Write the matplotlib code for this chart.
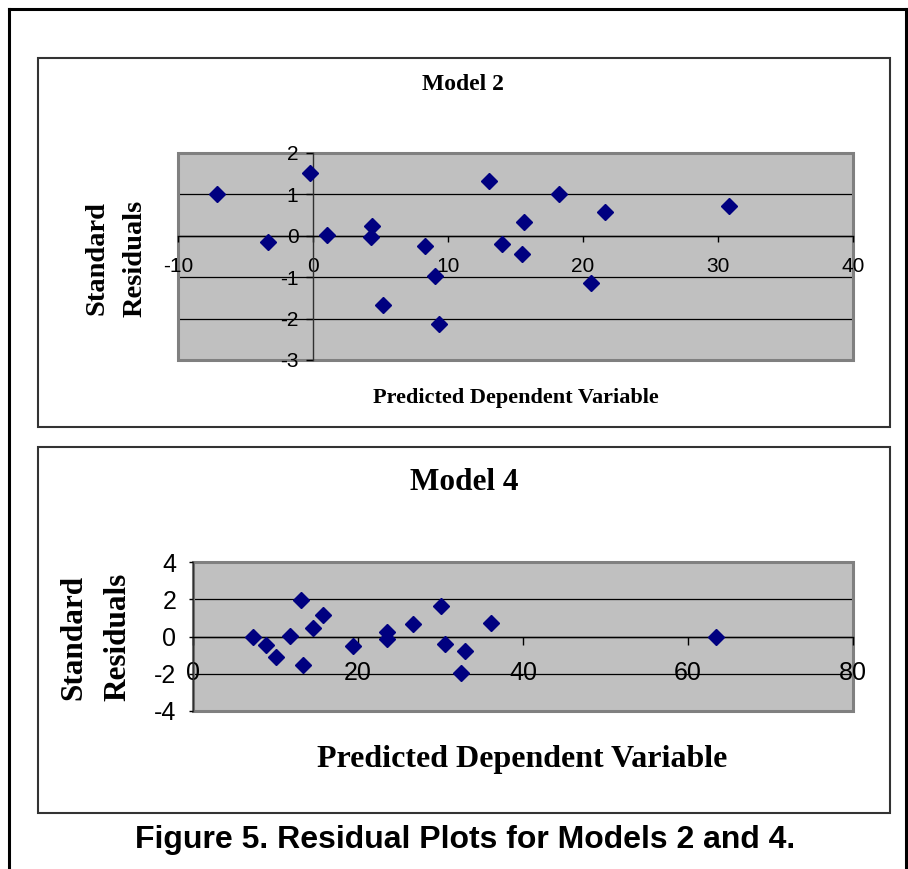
import matplotlib
matplotlib.use("Agg")
import matplotlib.pyplot as plt
from matplotlib.patches import Rectangle
from matplotlib.lines import Line2D

# ---------------- data ----------------
m2_pred = [-7.1, -3.3, -0.2, 1.0, 4.35, 4.3, 5.2, 8.3, 9.0, 9.3,
           13.0, 14.0, 15.6, 15.5, 18.2, 21.6, 20.6, 30.8]
m2_resid = [1.0, -0.15, 1.51, 0.01, 0.24, -0.04, -1.68, -0.24, -0.98, -2.13,
            1.33, -0.19, 0.33, -0.44, 1.0, 0.58, -1.14, 0.72]

m4_pred = [7.3, 8.85, 10.0, 11.7, 13.05, 13.3, 14.5, 15.8, 19.35, 23.55,
           23.5, 26.7, 30.1, 30.5, 33.0, 32.5, 36.1, 63.4]
m4_resid = [0.0, -0.46, -1.09, 0.03, 1.97, -1.54, 0.48, 1.15, -0.51, 0.26,
            -0.13, 0.66, 1.65, -0.38, -0.77, -1.96, 0.74, 0.0]

m2_xticks = [-10, 0, 10, 20, 30, 40]
m2_yticks = [-3, -2, -1, 0, 1, 2]
m4_xticks = [0, 20, 40, 60, 80]
m4_yticks = [-4, -2, 0, 2, 4]

title_top = "Model 2"
title_bot = "Model 4"
xlabel = "Predicted Dependent Variable"
ylabel = "Standard\nResiduals"
caption = "Figure 5. Residual Plots for Models 2 and 4."

SERIF = ["Liberation Serif", "DejaVu Serif"]
SANS = ["Liberation Sans", "DejaVu Sans"]
plt.rcParams["font.family"] = SANS
plt.rcParams["axes.unicode_minus"] = False

# ---------------- layout helpers ----------------
W, H = 908, 869
fig = plt.figure(figsize=(W / 100, H / 100), dpi=100)


def fx(px):
    return px / W


def fy(py):
    return 1 - py / H


# outer frame lines
for xs, ys in [([9, 9], [9, 869]), ([9, 906], [9, 9]), ([906, 906], [9, 869])]:
    fig.add_artist(Line2D([fx(v) for v in xs], [fy(v) for v in ys],
                          transform=fig.transFigure, color="black", lw=2.2))

# chart boxes
for (l, t, r, b) in [(38, 58, 890, 427), (38, 447, 890, 813)]:
    fig.add_artist(Rectangle((fx(l), fy(b)), fx(r) - fx(l), fy(t) - fy(b),
                             transform=fig.transFigure, fill=False,
                             edgecolor="#333333", lw=1.5))


def setup(ax, xs, ys, xticks, yticks, tick_fs, xlen, ylen, xpad, ypad):
    ax.set_facecolor("#C0C0C0")
    ax.plot(xs, ys, ls="none", marker="D", ms=7.8, color="#000080",
            mec="#000080", zorder=4, clip_on=False)
    ax.set_xlim(xticks[0], xticks[-1])
    ax.set_ylim(yticks[0], yticks[-1])
    ax.set_xticks(xticks)
    ax.set_yticks(yticks)
    ax.set_xticklabels([str(v) for v in xticks])
    ax.set_yticklabels([str(v) for v in yticks])
    ax.spines["left"].set_position(("data", 0))
    ax.spines["bottom"].set_position(("data", 0))
    ax.spines["top"].set_visible(False)
    ax.spines["right"].set_visible(False)
    ax.spines["left"].set_color("#303030")
    ax.spines["bottom"].set_color("black")
    ax.spines["left"].set_linewidth(1.0)
    ax.spines["bottom"].set_linewidth(1.0)
    for v in yticks[1:-1]:
        ax.axhline(v, color="black", lw=0.9, zorder=0.8)
    ax.tick_params(axis="x", direction="out", length=xlen, width=1,
                   pad=xpad, labelsize=tick_fs, colors="black")
    ax.tick_params(axis="y", direction="out", length=ylen, width=1,
                   pad=ypad, labelsize=tick_fs, colors="black")
    ax.add_patch(Rectangle((0, 0), 1, 1, transform=ax.transAxes, fill=False,
                           edgecolor="#808080", lw=2.2, clip_on=False,
                           zorder=1.0))


# top chart: plot area 178..853 x, 153..360 y
ax1 = fig.add_axes([fx(178), fy(360), fx(853) - fx(178), fy(153) - fy(360)])
setup(ax1, m2_pred, m2_resid, m2_xticks, m2_yticks, 15, 4.5, 5, 11, 5.5)

# bottom chart: plot area 193..853 x, 562..711 y
ax2 = fig.add_axes([fx(193), fy(711), fx(853) - fx(193), fy(562) - fy(711)])
setup(ax2, m4_pred, m4_resid, m4_xticks, m4_yticks, 18, 5.8, 3, 11.5, 9)

# texts
fig.text(fx(463), fy(84), title_top, ha="center", va="center",
         fontfamily=SERIF, fontweight="bold", fontsize=17)
fig.text(fx(516), fy(398), xlabel, ha="center", va="center",
         fontfamily=SERIF, fontweight="bold", fontsize=16)
fig.text(fx(116), fy(258), ylabel, ha="center", va="center", rotation=90,
         fontfamily=SERIF, fontweight="bold", fontsize=20.5,
         multialignment="center", linespacing=1.65)

fig.text(fx(464), fy(483), title_bot, ha="center", va="center",
         fontfamily=SERIF, fontweight="bold", fontsize=22.5)
fig.text(fx(522), fy(760), xlabel, ha="center", va="center",
         fontfamily=SERIF, fontweight="bold", fontsize=23)
fig.text(fx(96), fy(637), ylabel, ha="center", va="center", rotation=90,
         fontfamily=SERIF, fontweight="bold", fontsize=22.5,
         multialignment="center", linespacing=1.7)

fig.text(fx(465), fy(840), caption, ha="center", va="center",
         fontfamily=SANS, fontweight="bold", fontsize=23)

fig.savefig("out.png", dpi=100)
